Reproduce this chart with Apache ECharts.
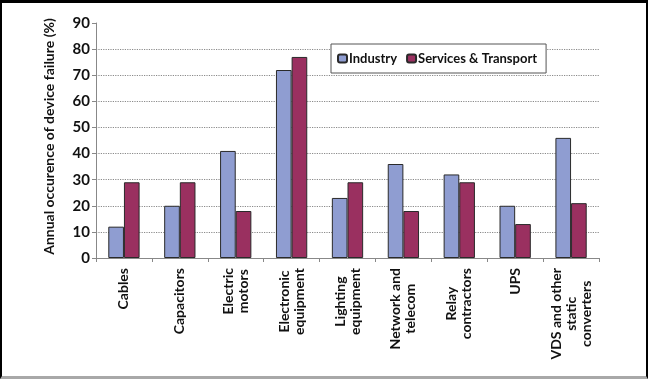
<!DOCTYPE html>
<html>
<head>
<meta charset="utf-8">
<script src="https://cdn.jsdelivr.net/npm/echarts@6/dist/echarts.min.js"></script>
<style>
html,body{margin:0;padding:0;background:#fff;}
#wrap{position:relative;width:648px;height:379px;}
#chart{position:absolute;left:0;top:0;width:648px;height:379px;}
#frame{position:absolute;left:0;top:0;width:648px;height:379px;box-sizing:border-box;
  border-top:3px solid #000;border-left:2px solid #000;border-right:2px solid #000;border-bottom:3px solid #a8a8a8;pointer-events:none;}
</style>
</head>
<body>
<div id="wrap"><div id="chart"></div><div id="frame"></div></div>
<script>
const categories = ['Cables', 'Capacitors', 'Electric\nmotors', 'Electronic\nequipment', 'Lighting\nequipment', 'Network and\ntelecom', 'Relay\ncontractors', 'UPS', 'VDS and other\nstatic\nconverters'];
const industry = [12, 20, 41, 72, 23, 36, 32, 20, 46];
const servicesTransport = [29, 29, 18, 77, 29, 18, 29, 13, 21];
const seriesNames = ['Industry', 'Services & Transport'];
const yTicks = [0, 10, 20, 30, 40, 50, 60, 70, 80, 90];

const FONT = 'Lato';
const W = 'bold';
const chart = echarts.init(document.getElementById('chart'), null, {renderer: 'canvas'});
const gridColors = yTicks.map((v, i) => i === yTicks.length - 1 ? 'rgba(0,0,0,0)' : '#8a8a8a');

chart.setOption({
  animation: false,
  backgroundColor: '#fff',
  textStyle: {fontFamily: FONT},
  legend: {
    data: seriesNames,
    left: 331, top: 44,
    orient: 'horizontal',
    padding: [8, 9, 8, 6],
    itemGap: 9,
    itemWidth: 9, itemHeight: 8,
    borderColor: '#555', borderWidth: 1,
    backgroundColor: '#fff',
    textStyle: {fontFamily: FONT, fontWeight: W, fontSize: 13, color: '#111', padding: [0, 0, 0, -3]}
  },
  grid: {left: 96, right: 49, top: 23, bottom: 121, containLabel: false},
  xAxis: {
    type: 'category',
    data: categories,
    axisLine: {show: true, lineStyle: {color: '#888', width: 1}},
    axisTick: {show: true, length: 4, alignWithLabel: false, lineStyle: {color: '#888'}},
    axisLabel: {
      interval: 0, rotate: 90, margin: 10,
      fontFamily: FONT, fontWeight: W, fontSize: 14, color: '#111',
      formatter: function (v) { return v.split('\n').map(s => '{c|' + s + '}').join('\n'); },
      rich: {c: {align: 'center', fontFamily: FONT, fontWeight: W, fontSize: 14, color: '#111', lineHeight: 15}}
    },
    splitLine: {show: false}
  },
  yAxis: {
    type: 'value',
    min: 0, max: 90, interval: 10,
    name: 'Annual occurence of device failure (%)',
    nameLocation: 'middle', nameGap: 40,
    nameTextStyle: {fontFamily: FONT, fontWeight: W, fontSize: 14, color: '#111', padding: [0, 0, 0, 8]},
    axisLine: {show: true, lineStyle: {color: '#888', width: 1}},
    axisTick: {show: true, length: 4, lineStyle: {color: '#888'}},
    axisLabel: {margin: 6, fontFamily: FONT, fontWeight: W, fontSize: 15, color: '#111'},
    splitLine: {show: true, lineStyle: {type: 'dotted', color: gridColors, width: 1.2}}
  },
  series: [
    {name: seriesNames[0], type: 'bar', data: industry, barGap: '0%', barCategoryGap: '44%',
     itemStyle: {color: '#8f9dd1', borderColor: '#2a2a2a', borderWidth: 1}},
    {name: seriesNames[1], type: 'bar', data: servicesTransport, barGap: '0%', barCategoryGap: '44%',
     itemStyle: {color: '#9a3060', borderColor: '#2a2a2a', borderWidth: 1}}
  ]
});
</script>
</body>
</html>
